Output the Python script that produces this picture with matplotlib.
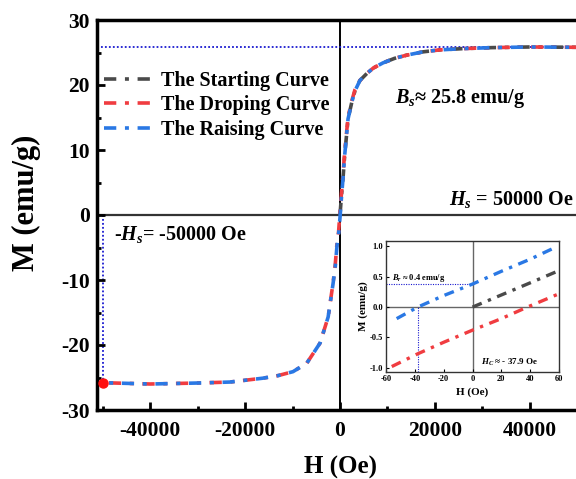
import numpy as np
import matplotlib.pyplot as plt
from matplotlib.lines import Line2D

plt.rcParams['font.family'] = 'Liberation Serif'
plt.rcParams['font.weight'] = 'bold'
plt.rcParams['axes.unicode_minus'] = False
plt.rcParams['mathtext.fontset'] = 'custom'
plt.rcParams['mathtext.rm'] = 'Liberation Serif:bold'
plt.rcParams['mathtext.it'] = 'Liberation Serif:italic:bold'
plt.rcParams['mathtext.bf'] = 'Liberation Serif:bold'

# --- data ---
# starting (initial magnetisation) curve, 0 -> 50000 Oe
H_start = [0, 300, 630, 1000, 1700, 2500, 3160, 4200, 5700, 7000, 9050,
           11500, 14100, 17500, 21000, 26000, 32000, 40000, 50000]
M_start = [0.0, 2.9, 5.6, 9.3, 14.8, 17.4, 19.1, 20.7, 21.8, 22.6, 23.4,
           24.1, 24.6, 25.1, 25.4, 25.6, 25.75, 25.85, 25.8]

# dropping curve, 50000 -> -50000 Oe
H_drop = [50000, 40000, 32000, 26000, 21000, 17500, 14100, 11500, 9050, 7000,
          5700, 4200, 3160, 2500, 1700, 1000, 630, 300, 0,
          -300, -630, -1000, -1470, -2500, -4200, -7000, -9900, -13000,
          -16200, -23200, -30000, -40000, -50000]
M_drop = [25.8, 25.85, 25.75, 25.6, 25.4, 25.1, 24.6, 24.1, 23.4, 22.6,
          21.8, 20.7, 19.3, 17.6, 15.1, 9.8, 6.2, 3.3, 0.4,
          -2.6, -4.3, -7.6, -10.5, -15.7, -19.7, -22.8, -24.1, -24.7,
          -25.1, -25.7, -25.85, -26.0, -25.8]

# raising curve, -50000 -> 50000 Oe
H_rise = [-50000, -40000, -30000, -23200, -16200, -13000, -9900, -7000, -4200,
          -2500, -1470, -1000, -630, -300, 0,
          300, 630, 1000, 1700, 2500, 3160, 4200, 5700, 7000, 9050, 11500,
          14100, 17500, 21000, 26000, 32000, 40000, 50000]
M_rise = [-25.8, -26.0, -25.85, -25.7, -25.1, -24.7, -24.1, -22.8, -19.7,
          -15.7, -10.6, -8.0, -4.7, -3.0, -0.4,
          2.6, 5.6, 9.3, 14.8, 17.4, 19.1, 20.7, 21.8, 22.6, 23.4, 24.1,
          24.6, 25.1, 25.4, 25.6, 25.75, 25.85, 25.8]

Bs = 25.8
Hs = 50000

# inset (low-field zoom)
Hi_start = [0, 20, 40, 58.8]
Mi_start = [0.0, 0.2, 0.4, 0.59]
Hi_drop = [-56, -38, -20, 0, 20, 38, 60]
Mi_drop = [-0.98, -0.77, -0.58, -0.38, -0.19, 0.0, 0.22]
Hi_rise = [-52.6, -38, -20, 0, 20, 40, 58.8]
Mi_rise = [-0.19, 0.0, 0.19, 0.38, 0.59, 0.79, 1.0]
Br = 0.38
Hc = -37.9

labels = ['The Starting Curve', 'The Droping Curve', 'The Raising Curve']
c_start = '#4a4a4a'
c_drop = '#f03c40'
c_rise = '#2a78e4'
c_guide = '#1a1ad0'
dash = (3.4, 2.4, 1.1, 2.4)

fig = plt.figure(figsize=(5.76, 4.79), dpi=100)
ax = fig.add_axes([97 / 576, 69 / 479, 486 / 576, 390 / 479])

ax.axhline(0, color='#333333', lw=1.6, zorder=1)
ax.axvline(0, color='black', lw=1.4, zorder=1)
ax.axhline(Bs, color=c_guide, ls=(0, (1, 1.2)), lw=1.3, zorder=1)
ax.plot([-Hs, -Hs], [0, -Bs], color=c_guide, ls=(0, (1, 1.2)), lw=1.3, zorder=1)

ax.plot(H_start, M_start, color=c_start, lw=2.6, ls=(0, dash), zorder=3)
ax.plot(H_drop, M_drop, color=c_drop, lw=2.6, ls=(0, dash), zorder=4)
ax.plot(H_rise, M_rise, color=c_rise, lw=2.6, ls=(4.0, dash), zorder=5)
ax.plot([-Hs], [-Bs], 'o', color='#ff1010', ms=6.5, zorder=6, clip_on=False)

ax.set_xlim(-51200, 51200)
ax.set_ylim(-30, 30)
ax.set_xticks([-40000, -20000, 0, 20000, 40000])
ax.set_yticks([-30, -20, -10, 0, 10, 20, 30])
ax.set_xticks(np.arange(-50000, 50001, 10000), minor=True)
ax.set_yticks(np.arange(-30, 31, 5), minor=True)
ax.tick_params(which='both', direction='in', width=2, labelsize=15.5)
ax.tick_params(axis='x', pad=8)
ax.tick_params(axis='y', pad=5)
ax.tick_params(which='major', length=6)
ax.tick_params(which='minor', length=3)
for lab in ax.get_xticklabels() + ax.get_yticklabels():
    lab.set_fontweight('bold')
for s in ax.spines.values():
    s.set_linewidth(2.5)

ax.set_xlabel('H (Oe)', fontsize=18, fontweight='bold')
ax.xaxis.set_label_coords(0.5, -0.118)
ax.set_ylabel('M (emu/g)', fontsize=22, fontweight='bold')
ax.yaxis.set_label_coords(-0.115, 0.53)

ax.text(-47600, -3.9, r'-$H_s$= -50000 Oe', fontsize=14.5, fontweight='bold')
ax.text(49300, 1.6, r'$H_s$ = 50000 Oe', fontsize=14.5, fontweight='bold', ha='right')
ax.text(11500, 17.3, r'$B_s$≈ 25.8 emu/g', fontsize=14.5, fontweight='bold')

handles = [Line2D([], [], color=c, lw=2.6, ls=(0, dash)) for c in (c_start, c_drop, c_rise)]
leg = ax.legend(handles, labels, loc='upper left', bbox_to_anchor=(104 / 576, 1 - 71 / 479),
                bbox_transform=fig.transFigure, frameon=False, fontsize=14.5,
                handlelength=2.5, handletextpad=0.35, labelspacing=0.22,
                borderpad=0, borderaxespad=0)
for t in leg.get_texts():
    t.set_fontweight('bold')

# --- inset ---
axi = fig.add_axes([386 / 576, 107 / 479, 173 / 576, 131 / 479])
axi.axhline(0, color='#666666', lw=1.0, zorder=1)
axi.axvline(0, color='#666666', lw=1.0, zorder=1)
axi.plot([-60, 0], [Br, Br], color=c_guide, ls=(0, (1, 1.2)), lw=0.8, zorder=1)
axi.plot([Hc, Hc], [-1.07, 0], color=c_guide, ls=(0, (1, 1.2)), lw=0.8, zorder=1)
di = (3.0, 2.0, 1.0, 2.0)
axi.plot(Hi_start, Mi_start, color=c_start, lw=2.4, dashes=di, zorder=3)
axi.plot(Hi_drop, Mi_drop, color=c_drop, lw=2.4, dashes=di, zorder=3)
axi.plot(Hi_rise, Mi_rise, color=c_rise, lw=2.4, dashes=di, zorder=3)
axi.set_xlim(-60, 60)
axi.set_ylim(-1.07, 1.09)
axi.set_xticks([-60, -40, -20, 0, 20, 40, 60])
axi.set_yticks([-1.0, -0.5, 0.0, 0.5, 1.0])
axi.set_yticklabels(['-1.0', '-0.5', '0.0', '0.5', '1.0'])
axi.tick_params(direction='in', length=2.5, width=0.8, labelsize=6, pad=2)
for lab in axi.get_xticklabels() + axi.get_yticklabels():
    lab.set_fontweight('bold')
for s in axi.spines.values():
    s.set_linewidth(1.0)
    s.set_color('#333333')
axi.set_xlabel('H (Oe)', fontsize=8, fontweight='bold', labelpad=3)
axi.set_ylabel('M (emu/g)', fontsize=8, fontweight='bold', labelpad=1)
axi.text(-56, 0.44, r'$B_r$ ≈ 0.4 emu/g', fontsize=6, fontweight='bold')
axi.text(6, -0.95, r'$H_C$ ≈ - 37.9 Oe', fontsize=6.5, fontweight='bold')

fig.savefig('out.png', dpi=100)
